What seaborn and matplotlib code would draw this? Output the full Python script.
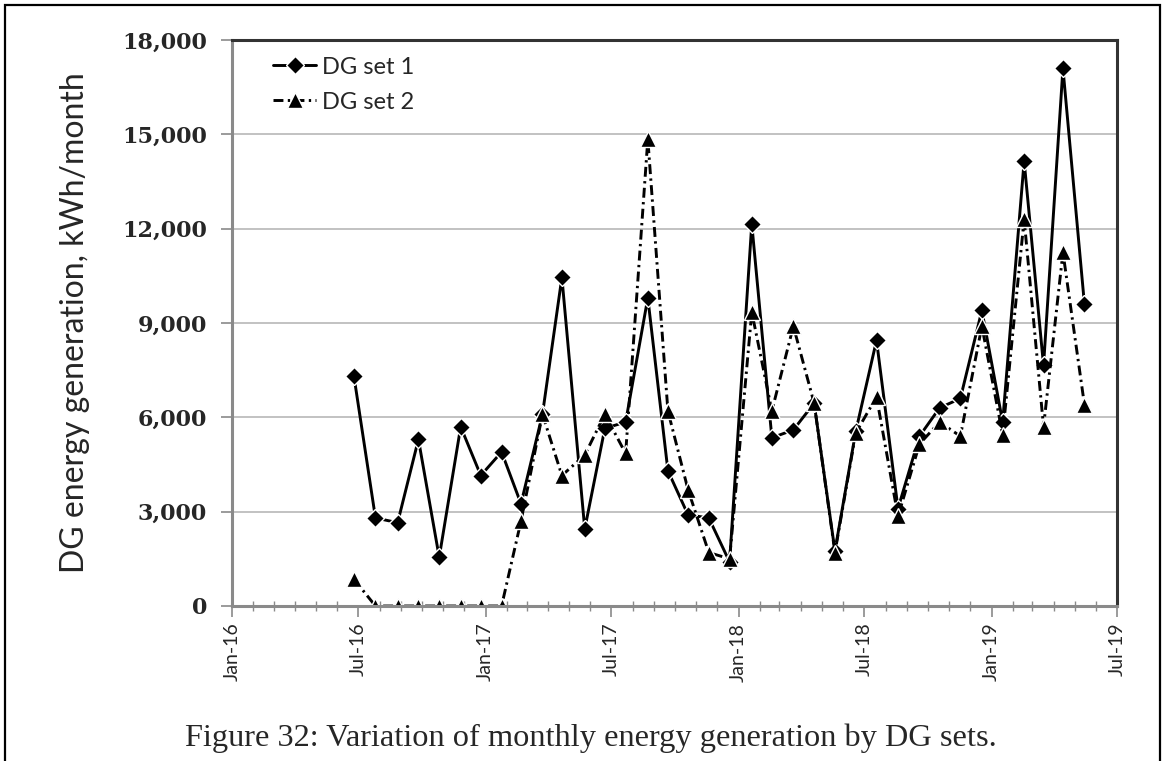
import matplotlib
matplotlib.use("Agg")
import matplotlib.pyplot as plt
import matplotlib.dates as mdates
from matplotlib.patches import Rectangle
from matplotlib.ticker import FuncFormatter, MultipleLocator
import seaborn as sns
import pandas as pd

dates = ["2016-06-25", "2016-07-26", "2016-08-27", "2016-09-26", "2016-10-26", "2016-11-26",
         "2016-12-25", "2017-01-24", "2017-02-21", "2017-03-24", "2017-04-21", "2017-05-24",
         "2017-06-22", "2017-07-22", "2017-08-23", "2017-09-21", "2017-10-20", "2017-11-19",
         "2017-12-19", "2018-01-20", "2018-02-18", "2018-03-21", "2018-04-20", "2018-05-20",
         "2018-06-19", "2018-07-19", "2018-08-19", "2018-09-19", "2018-10-18", "2018-11-17",
         "2018-12-18", "2019-01-17", "2019-02-17", "2019-03-17", "2019-04-14", "2019-05-15"]
dg_set_1 = [7300, 2800, 2650, 5300, 1550, 5700, 4150, 4900, 3250, 6100, 10450, 2450,
            5650, 5850, 9800, 4300, 2900, 2800, 1400, 12150, 5350, 5600, 6450, 1750,
            5550, 8450, 3100, 5400, 6300, 6600, 9400, 5850, 14150, 7650, 17100, 9600]
dg_set_2 = [850, 0, 0, 0, 0, 0, 0, 0, 2700, 6100, 4150, 4800,
            6100, 4850, 14850, 6200, 3700, 1700, 1500, 9350, 6200, 8900, 6450, 1700,
            5500, 6650, 2850, 5150, 5850, 5400, 8900, 5450, 12300, 5700, 11250, 6400]
series_names = ["DG set 1", "DG set 2"]
y_label = "DG energy generation, kWh/month"
caption = "Figure 32: Variation of monthly energy generation by DG sets."

df = pd.DataFrame({"date": pd.to_datetime(dates),
                   series_names[0]: dg_set_1,
                   series_names[1]: dg_set_2})

sns.set_style("white")
plt.rcParams["font.family"] = ["Lato", "DejaVu Sans"]

fig = plt.figure(figsize=(11.67, 7.61), dpi=100)
ax = fig.add_axes([232 / 1167, 1 - 606 / 761, (1117 - 232) / 1167, (606 - 40) / 761])

sns.lineplot(data=df, x="date", y=series_names[0], ax=ax, color="black",
             marker="D", markersize=9.5, markeredgewidth=1, linewidth=2.1,
             linestyle="-", label=series_names[0])
sns.lineplot(data=df, x="date", y=series_names[1], ax=ax, color="black",
             marker="^", markersize=11.5, markeredgewidth=1, linewidth=2.1,
             linestyle=(0, (3.4, 1.5, 0.8, 1.5)), label=series_names[1])

ax.set_xlim(pd.Timestamp("2016-01-01"), pd.Timestamp("2019-07-01"))
ax.set_ylim(0, 18000)
ax.yaxis.set_major_locator(MultipleLocator(3000))
ax.yaxis.set_major_formatter(FuncFormatter(lambda v, p: f"{int(v):,}"))
ax.xaxis.set_major_locator(mdates.MonthLocator(bymonth=[1, 7]))
ax.xaxis.set_minor_locator(mdates.MonthLocator())
ax.xaxis.set_major_formatter(mdates.DateFormatter("%b-%y"))

ax.grid(axis="y", color="#bdbdbd", linewidth=1.3)
ax.grid(axis="x", visible=False)
ax.set_axisbelow(True)

for s in ["left", "bottom"]:
    ax.spines[s].set_color("#8a8a8a")
    ax.spines[s].set_linewidth(2.2)
for s in ["top", "right"]:
    ax.spines[s].set_color("#333333")
    ax.spines[s].set_linewidth(2.2)

ax.tick_params(axis="y", which="major", direction="out", length=8, width=1.2,
               color="#8a8a8a", pad=10, left=True)
ax.tick_params(axis="x", which="major", direction="out", length=8, width=1.2,
               color="#8a8a8a", pad=4, bottom=True)
ax.tick_params(axis="x", which="minor", direction="inout", length=7, width=1,
               color="#8a8a8a", bottom=True)

for lab in ax.get_yticklabels():
    lab.set_fontfamily("DejaVu Serif")
    lab.set_fontweight("bold")
    lab.set_fontsize(16)
for lab in ax.get_xticklabels():
    lab.set_rotation(90)
    lab.set_fontsize(14)
    lab.set_fontfamily(["Lato", "DejaVu Sans"])

ax.set_xlabel("")
ax.set_ylabel(y_label, fontsize=23, fontfamily=["Lato", "DejaVu Sans"])
ax.yaxis.set_label_coords(-0.16, 0.5)

leg = ax.legend(loc="upper left", bbox_to_anchor=(0.028, 1.0), frameon=False,
                fontsize=17, handlelength=1.8, handletextpad=0.25,
                labelspacing=0.6, borderpad=0.2)

fig.text(591 / 1167, 1 - 738 / 761, caption, ha="center", va="center",
         fontsize=23.3, fontfamily="Liberation Serif")

fig.patches.append(Rectangle((5 / 1167, -0.05), (1160 - 5) / 1167, 1.05 - 5 / 761,
                             transform=fig.transFigure, fill=False,
                             edgecolor="black", linewidth=1.6))

fig.savefig("out.png", dpi=100)
